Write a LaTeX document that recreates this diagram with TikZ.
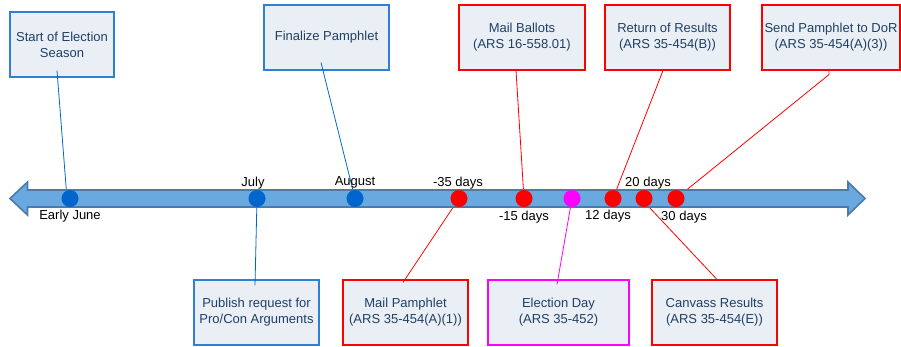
\documentclass[tikz,border=0pt]{standalone}
\usepackage{fontspec}
\setmainfont{Liberation Sans}
\definecolor{boxfill}{HTML}{EAEFF5}
\definecolor{boxtext}{HTML}{1F3F66}
\definecolor{bblue}{HTML}{2F7FD6}
\definecolor{dblue}{HTML}{0066CC}
\definecolor{arrfill}{HTML}{6AA8E0}
\definecolor{arredge}{HTML}{4A7BAA}
\definecolor{bred}{HTML}{FF0000}
\definecolor{bmag}{HTML}{FF00FF}
\tikzset{
  evbox/.style={draw, fill=boxfill, line width=1.1pt, text=boxtext, align=center,
    inner sep=0pt, minimum height=65pt, font=\fontsize{13}{16}\selectfont},
  bluebox/.style={evbox, draw=bblue},
  redbox/.style={evbox, draw=bred},
  magbox/.style={evbox, draw=bmag},
  dot/.style={circle, inner sep=0pt, minimum size=17pt},
  bluedot/.style={dot, fill=dblue},
  reddot/.style={dot, fill=bred},
  magdot/.style={dot, fill=bmag},
  tlabel/.style={font=\fontsize{13}{16}\selectfont, inner sep=0pt, text=black},
  bline/.style={draw=dblue, line width=0.8pt},
  rline/.style={draw=bred, line width=0.8pt},
  mline/.style={draw=bmag, line width=0.8pt},
}
\begin{document}
\begin{tikzpicture}[x=1pt,y=-1pt]
\useasboundingbox (0,0) rectangle (901,346);
% boxes
\node[bluebox, minimum width=104pt] (start) at (62,44.5) {Start of Election\\Season};
\node[bluebox, minimum width=125pt] (final) at (326.5,37.5) {Finalize Pamphlet};
\node[redbox, minimum width=126pt] (ballots) at (522,37.5) {Mail Ballots\\(ARS 16-558.01)};
\node[redbox, minimum width=125pt] (ret) at (667.5,37.5) {Return of Results\\(ARS 35-454(B))};
\node[redbox, minimum width=138pt] (send) at (831,37.5) {Send Pamphlet to DoR\\(ARS 35-454(A)(3))};
\node[bluebox, minimum width=125pt] (publish) at (256.5,312.5) {Publish request for\\Pro/Con Arguments};
\node[redbox, minimum width=125pt] (mailp) at (405.5,312.5) {Mail Pamphlet\\(ARS 35-454(A)(1))};
\node[magbox, minimum width=141pt] (elec) at (558.5,312.5) {Election Day\\(ARS 35-452)};
\node[redbox, minimum width=125pt] (canv) at (714.5,312.5) {Canvass Results\\(ARS 35-454(E))};
% dot positions
\coordinate (cjune) at (70,198.5);
\coordinate (cjuly) at (257,198.5);
\coordinate (caug) at (355,198.5);
\coordinate (cm35) at (459,198.5);
\coordinate (cm15) at (524,198.5);
\coordinate (celec) at (572,198.5);
\coordinate (cd12) at (613,198.5);
\coordinate (cd20) at (644,198.5);
\coordinate (cd30) at (676,198.5);
% connectors (behind the arrow)
\draw[bline] ([shift={(-5,-7)}]start.south) -- ([xshift=-3]cjune);
\draw[bline] ([shift={(-5.5,-8)}]final.south) -- (caug);
\draw[rline] ([xshift=-6]ballots.south) -- (cm15);
\draw[rline] ([xshift=-4.5]ret.south) -- (cd12);
\draw[rline] ([xshift=-2]send.south) -- ++(0,4) -- (cd30);
\draw[bline] (cjuly) -- ([shift={(-1.5,6)}]publish.north);
\draw[rline] (cm35) -- ([shift={(-2.5,3)}]mailp.north);
\draw[mline] (celec) -- ([shift={(-1.5,5)}]elec.north);
\draw[rline] ([xshift=-3]cd20) -- ([xshift=2.5]canv.north);
% timeline arrow
\draw[fill=arrfill, draw=arredge, line width=1.6pt, line join=miter]
  (10,198.5) -- (27.5,182) -- (27.5,190) -- (848,190) -- (848,182) -- (865,198.5)
  -- (848,215) -- (848,207) -- (27.5,207) -- (27.5,215) -- cycle;
% dots
\node[bluedot] (june) at (cjune) {};
\node[bluedot] (july) at (cjuly) {};
\node[bluedot] (aug) at (caug) {};
\node[reddot] (m35) at (cm35) {};
\node[reddot] (m15) at (cm15) {};
\node[magdot] (eday) at (celec) {};
\node[reddot] (d12) at (cd12) {};
\node[reddot] (d20) at (cd20) {};
\node[reddot] (d30) at (cd30) {};
% labels
\node[tlabel] (ljune) at (70,216) {Early June};
\node[tlabel] (ljuly) at (253,183) {July};
\node[tlabel] (laug) at (355,182) {August};
\node[tlabel] (lm35) at (458,183) {-35 days};
\node[tlabel] (lm15) at (524,217) {-15 days};
\node[tlabel] (ld12) at (608,216) {12 days};
\node[tlabel] (ld20) at (648,183) {20 days};
\node[tlabel] (ld30) at (684,217) {30 days};
\end{tikzpicture}
\end{document}
